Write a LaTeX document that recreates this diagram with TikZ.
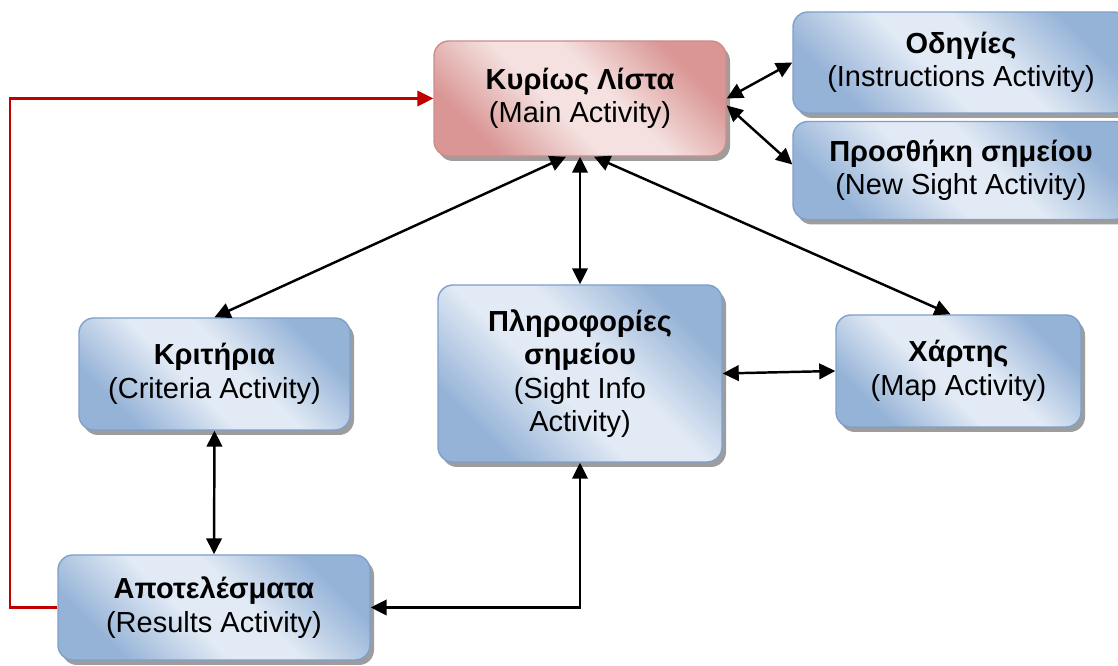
\documentclass[tikz,border=0pt]{standalone}
\usepackage{fontspec}
\setmainfont{Liberation Sans}
\usepackage{xcolor}
\definecolor{actdark}{RGB}{149,179,215}
\definecolor{actlight}{RGB}{226,234,245}
\definecolor{actedge}{RGB}{126,160,204}
\definecolor{maindark}{RGB}{217,150,148}
\definecolor{mainlight}{RGB}{244,225,224}
\definecolor{mainedge}{RGB}{205,140,140}
\definecolor{linkred}{RGB}{192,0,0}
\usetikzlibrary{arrows.meta, positioning, shadows}
\newcommand\actfont{\fontsize{16.5}{19}\selectfont}
\pgfdeclarehorizontalshading{actshade}{100bp}{color(0bp)=(actdark);
  color(26bp)=(actdark); color(44bp)=(actlight); color(56bp)=(actlight);
  color(74bp)=(actdark); color(100bp)=(actdark)}
\pgfdeclarehorizontalshading{mainshade}{100bp}{color(0bp)=(maindark);
  color(26bp)=(maindark); color(44bp)=(mainlight); color(56bp)=(mainlight);
  color(74bp)=(maindark); color(100bp)=(maindark)}
\tikzset{
  >={Triangle[length=0.32cm, width=0.31cm]},
  actbox/.style={rounded corners=0.3cm, draw=actedge, line width=0.8pt,
                 shading=actshade, shading angle=45,
                 align=center, inner sep=0pt, font=\actfont,
                 drop shadow={shadow xshift=0.08cm, shadow yshift=-0.1cm,
                              fill=black!55, opacity=0.7}},
  mainbox/.style={actbox, draw=mainedge, shading=mainshade},
  link/.style={<->, line width=1.4pt, black},
  backlink/.style={->, line width=1.3pt, linkred},
}

\begin{document}
\begin{tikzpicture}
  \useasboundingbox (0,0) rectangle (22.36,13.32);

  % Activities
  \node[mainbox, minimum width=5.84cm, minimum height=2.3cm]
    (main) at (11.6,11.35) {\textbf{Κυρίως Λίστα}\\(Main Activity)};
  \node[actbox, minimum width=6.72cm, minimum height=2.02cm]
    (instr) at (19.22,12.07) {\textbf{Οδηγίες}\\(Instructions Activity)};
  \node[actbox, minimum width=6.72cm, minimum height=1.96cm]
    (newsight) at (19.22,9.91) {\textbf{Προσθήκη σημείου}\\(New Sight Activity)};
  \node[actbox, minimum width=5.42cm, minimum height=2.24cm]
    (criteria) at (4.29,5.84) {\textbf{Κριτήρια}\\(Criteria Activity)};
  \node[actbox, minimum width=5.68cm, minimum height=3.54cm]
    (sightinfo) at (11.6,5.85)
    {\textbf{Πληροφορίες}\\\textbf{σημείου}\\(Sight Info\\Activity)};
  \node[actbox, minimum width=4.9cm, minimum height=2.24cm]
    (mapact) at (19.17,5.9) {\textbf{Χάρτης}\\(Map Activity)};
  \node[actbox, minimum width=6.24cm, minimum height=2.1cm]
    (results) at (4.28,1.17) {\textbf{Αποτελέσματα}\\(Results Activity)};

  % Links between activities
  \draw[link] (main.east) -- (instr.west);
  \draw[link] ([yshift=-0.14cm]main.east) -- ([yshift=0.12cm]newsight.west);
  \draw[link] ([xshift=-0.28cm]main.south) -- (criteria.north);
  \draw[link] (main.south) -- (sightinfo.north);
  \draw[link] ([xshift=0.28cm]main.south) -- ([xshift=-0.16cm]mapact.north);
  \draw[link] (sightinfo.east) -- (mapact.west);
  \draw[link] (criteria.south) -- (results.north);
  \draw[link] (sightinfo.south) |- (results.east);

  % Back to the main list
  \coordinate (loopturn) at (0.2,11.35);
  \draw[backlink] (results.west) -| (loopturn) -- (main.west);
\end{tikzpicture}
\end{document}
